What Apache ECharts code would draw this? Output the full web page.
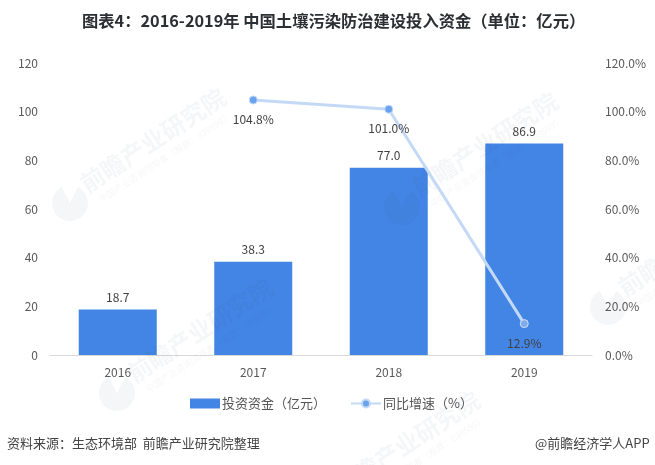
<!DOCTYPE html>
<html>
<head>
<meta charset="utf-8">
<style>
    html, body { margin: 0; padding: 0; background: #fff; }
    #chart { width: 655px; height: 465px; }
</style>
<script src="https://cdn.jsdelivr.net/npm/echarts@6/dist/echarts.min.js"></script>
</head>
<body>
<div id="chart"></div>
<script>
const years = ['2016', '2017', '2018', '2019'];
const funds = [18.7, 38.3, 77.0, 86.9];
const growth = [null, 104.8, 101.0, 12.9];
const fundsName = '投资资金（亿元）';
const growthName = '同比增速（%）';
const titleText = '图表4：2016-2019年 中国土壤污染防治建设投入资金（单位：亿元）';
const sourceText = '资料来源：生态环境部  前瞻产业研究院整理';
const creditText = '@前瞻经济学人APP';
const watermarkLogos = [[70, 203], [117, 393], [402, 207], [608, 307], [324, 506]];

const fontCjk = '"Noto Sans CJK SC", sans-serif';
const markColor = 'rgba(50,70,110,0.05)';
const markAngle = Math.PI * 33 / 180;

/* 水印：圆形标志 + 两行斜排文字 */
function watermark(logo) {
    return [
        {
            type: 'sector',
            x: logo[0],
            y: logo[1],
            silent: true,
            z: 3,
            shape: { r: 18, startAngle: Math.PI * 1.65, endAngle: Math.PI * 3.35 },
            style: { fill: markColor }
        },
        {
            type: 'text',
            x: logo[0] + 19,
            y: logo[1] - 7,
            rotation: markAngle,
            silent: true,
            z: 3,
            style: { text: '前瞻产业研究院', fill: markColor, font: 'bold 24px ' + fontCjk, textVerticalAlign: 'bottom' }
        },
        {
            type: 'text',
            x: logo[0] + 32,
            y: logo[1] + 1,
            rotation: markAngle,
            silent: true,
            z: 3,
            style: { text: '中国产业咨询领导者（股票：839599）', fill: markColor, font: '9px ' + fontCjk, textVerticalAlign: 'bottom' }
        }
    ];
}

let myEchart = echarts.init(document.getElementById('chart'));
let option = {
    backgroundColor: '#fff',
    animation: false,
    title: {
        text: titleText,
        left: 77,
        top: 8,
        textStyle: { fontFamily: fontCjk, fontSize: 16.3, fontWeight: 'bold', color: '#2b2f33' }
    },
    legend: {
        left: 185,
        top: 392,
        itemGap: 24,
        itemWidth: 30,
        itemHeight: 10,
        textStyle: { fontFamily: fontCjk, fontSize: 13, color: '#555', padding: [0, 0, 0, -3] },
        data: [
            { name: fundsName, icon: 'rect' },
            { name: growthName }
        ]
    },
    grid: { left: 50, right: 63, top: 63, bottom: 110 },
    xAxis: {
        type: 'category',
        data: years,
        axisTick: { show: false },
        axisLine: { lineStyle: { color: '#d9d9d9', width: 1 } },
        axisLabel: { color: '#595959', fontSize: 12, fontFamily: fontCjk, margin: 11 }
    },
    yAxis: [
        {
            type: 'value',
            min: 0,
            max: 120,
            interval: 20,
            axisLine: { show: false },
            axisTick: { show: false },
            splitLine: { show: false },
            axisLabel: { color: '#595959', fontSize: 12, fontFamily: fontCjk, margin: 12 }
        },
        {
            type: 'value',
            min: 0,
            max: 120,
            interval: 20,
            axisLine: { show: false },
            axisTick: { show: false },
            splitLine: { show: false },
            axisLabel: {
                color: '#595959',
                fontSize: 12,
                fontFamily: fontCjk,
                margin: 13,
                formatter: value => value.toFixed(1) + '%'
            }
        }
    ],
    series: [
        {
            name: fundsName,
            type: 'bar',
            barWidth: 78,
            itemStyle: { color: '#4285e4' },
            label: {
                show: true,
                position: 'top',
                distance: 6,
                color: '#404040',
                fontSize: 12,
                fontFamily: fontCjk,
                formatter: p => p.value.toFixed(1)
            },
            data: funds
        },
        {
            name: growthName,
            type: 'line',
            yAxisIndex: 1,
            symbol: 'circle',
            symbolSize: 8,
            lineStyle: { color: '#c3d9f6', width: 3 },
            itemStyle: { color: '#6aa2ee', borderColor: '#c3d9f6', borderWidth: 1 },
            label: {
                show: true,
                position: 'bottom',
                distance: 9,
                color: '#404040',
                fontSize: 12,
                fontFamily: fontCjk,
                formatter: p => p.value.toFixed(1) + '%'
            },
            data: growth.map((value, i) => i === 3
                ? { value: value, itemStyle: { color: '#7fabea', borderColor: '#d5e3f8', borderWidth: 1 } }
                : value)
        }
    ],
    graphic: [
        ...watermarkLogos.flatMap(watermark),
        {
            type: 'text',
            x: 7,
            y: 437,
            style: { text: sourceText, fill: '#444', font: '13px ' + fontCjk }
        },
        {
            type: 'text',
            x: 535,
            y: 437,
            style: { text: creditText, fill: '#444', font: '13px ' + fontCjk }
        }
    ]
};
myEchart.setOption(option);
</script>
</body>
</html>
